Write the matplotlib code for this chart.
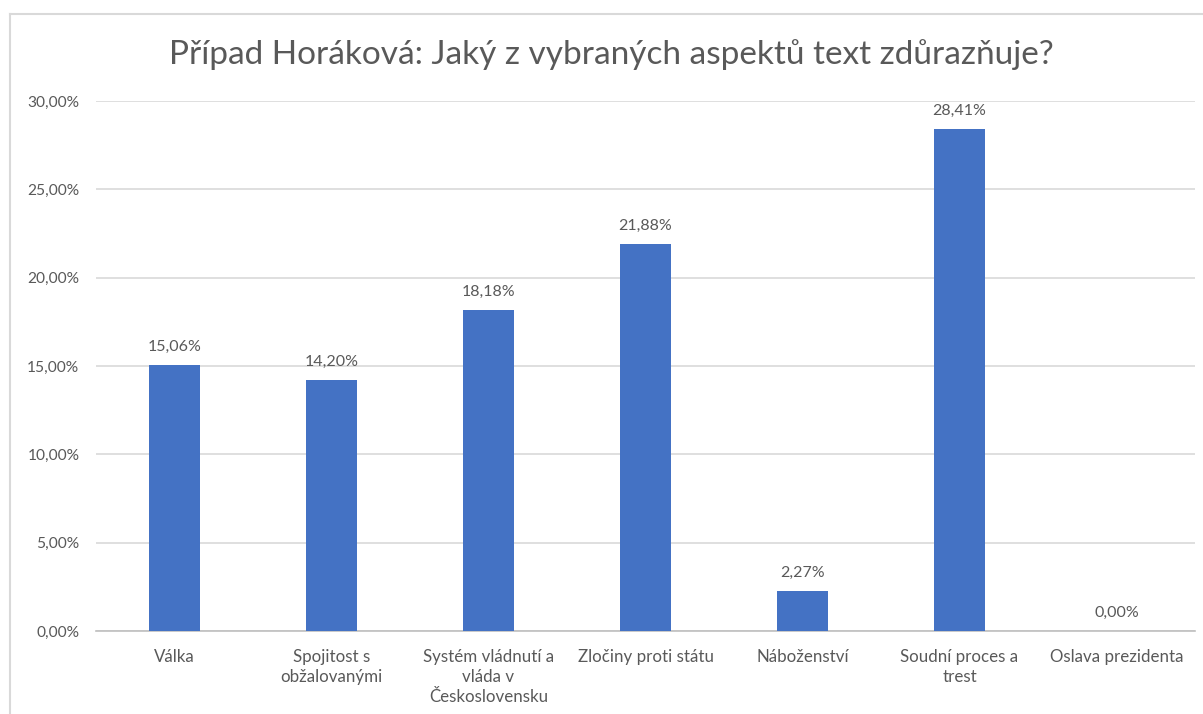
import numpy as np
import matplotlib.pyplot as plt
from matplotlib.lines import Line2D
from matplotlib.ticker import FuncFormatter

plt.rcParams['font.family'] = ['Lato', 'DejaVu Sans']

categories = [
    "Válka",
    "Spojitost s\nobžalovanými",
    "Systém vládnutí a\nvláda v\nČeskoslovensku",
    "Zločiny proti státu",
    "Náboženství",
    "Soudní proces a\ntrest",
    "Oslava prezidenta",
]
values = [0.1506, 0.1420, 0.1818, 0.2188, 0.0227, 0.2841, 0.0]
yticks = [0.0, 0.05, 0.10, 0.15, 0.20, 0.25, 0.30]

text_color = "#595959"
bar_color = "#4472C4"
grid_color = "#D9D9D9"


def pct(v, pos=None):
    return f"{v * 100:.2f}%".replace(".", ",")


W, H = 1203, 714
fig = plt.figure(figsize=(W / 100, H / 100), dpi=100)
# plot area: x 96..1195 px, y 101..631 px
ax = fig.add_axes([96 / W, 1 - 631 / H, (1195 - 96) / W, (631 - 101) / H])

x = np.arange(len(categories))
ax.bar(x, values, width=0.32, color=bar_color, zorder=3)
for xi, v in zip(x, values):
    ax.annotate(pct(v), (xi, v), xytext=(0, 8), textcoords="offset points",
                ha="center", va="bottom", fontsize=11.5, color=text_color)

ax.set_xlim(-0.5, len(categories) - 0.5)
ax.set_ylim(0, 0.30)
ax.set_yticks(yticks)
ax.yaxis.set_major_formatter(FuncFormatter(pct))
ax.set_xticks(x)
ax.set_xticklabels(categories, fontsize=12.2, color=text_color, linespacing=1.3)
ax.tick_params(axis="y", labelsize=11.2, labelcolor=text_color, length=0, pad=12)
ax.tick_params(axis="x", length=0, pad=13)
ax.grid(axis="y", color=grid_color, linewidth=1.2, zorder=0)
for s in ["top", "right", "left"]:
    ax.spines[s].set_visible(False)
ax.spines["bottom"].set_color("#BFBFBF")
ax.spines["bottom"].set_linewidth(1.2)

fig.text(611 / W, 1 - 64 / H, "Případ Horáková: Jaký z vybraných aspektů text zdůrazňuje?",
         ha="center", va="baseline", fontsize=24, color=text_color)

# chart border (only top and left edges are inside the crop)
fig.add_artist(Line2D([10 / W, 1.0], [1 - 14 / H, 1 - 14 / H],
                      transform=fig.transFigure, color=grid_color, linewidth=1.5))
fig.add_artist(Line2D([10 / W, 10 / W], [0.0, 1 - 14 / H],
                      transform=fig.transFigure, color=grid_color, linewidth=1.5))

fig.savefig("out.png", dpi=100, facecolor="white")
